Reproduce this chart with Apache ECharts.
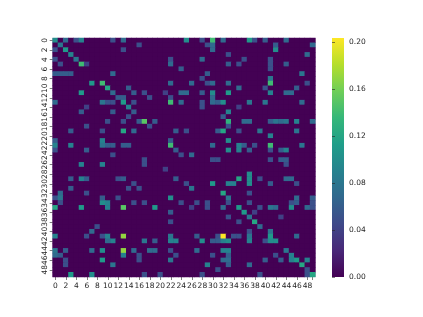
<!DOCTYPE html>
<html><head><meta charset="utf-8">
<style>html,body{margin:0;padding:0;background:#fff}#c{width:423px;height:317px;filter:blur(0.3px)}</style>
<script src="https://cdn.jsdelivr.net/npm/echarts@6/dist/echarts.min.js"></script>
</head><body><div id="c"></div>
<script>
const labels = Array.from({length:50},(_,i)=>String(i));
const colorbarTicks = [0,0.04,0.08,0.12,0.16,0.2];
const viridis = ['#440154','#482878','#3e4989','#31688e','#26828e','#1f9e89','#35b779','#6ece58','#b5de2b','#fde725'];
const vMax = 0.2034;
// per row: column,value pairs
const rowCells = [
/*0*/[[0,.1],[2,.07],[4,.05],[5,.09],[11,.05],[13,.07],[25,.1],[28,.05],[30,.14],[32,.07],[37,.11],[38,.05],[40,.06],[44,.07]],
/*1*/[[1,.08],[16,.05],[29,.05],[30,.07],[42,.06],[49,.07]],
/*2*/[[0,.05],[2,.11],[13,.05],[30,.07],[42,.1]],
/*3*/[[3,.09],[33,.05],[48,.07]],
/*4*/[[0,.05],[4,.08],[22,.05],[28,.07],[36,.05],[41,.05]],
/*5*/[[1,.05],[5,.14],[6,.04],[22,.07],[33,.06],[35,.05],[41,.05],[44,.06]],
/*6*/[[24,.06],[41,.05]],
/*7*/[[0,.06],[1,.06],[2,.06],[3,.06],[11,.07],[29,.06],[47,.08]],
/*8*/[[28,.05],[41,.08]],
/*9*/[[7,.11],[9,.14],[22,.07],[26,.07],[29,.05],[30,.07],[33,.07],[41,.14],[48,.05]],
/*10*/[[10,.12],[14,.06],[35,.07],[40,.05],[46,.06]],
/*11*/[[5,.11],[11,.07],[15,.06],[17,.05],[21,.04],[24,.07],[25,.07],[28,.06],[30,.1],[33,.11],[41,.09],[44,.07],[45,.07]],
/*12*/[[12,.06],[13,.06],[18,.05],[22,.05],[30,.07]],
/*13*/[[0,.07],[9,.08],[10,.05],[11,.05],[13,.11],[15,.05],[22,.14],[24,.07],[28,.05],[30,.07],[31,.06],[32,.1],[37,.08],[40,.08],[47,.07]],
/*14*/[[6,.04],[14,.09],[28,.05],[35,.04]],
/*15*/[[5,.06],[11,.06],[15,.06],[33,.09]],
/*16*/[[14,.05],[32,.06]],
/*17*/[[10,.05],[13,.05],[16,.06],[17,.15],[19,.06],[33,.13],[36,.07],[37,.07],[41,.06],[42,.08],[43,.07],[44,.08],[46,.09],[49,.07]],
/*18*/[[6,.05],[18,.05],[33,.05]],
/*19*/[[3,.06],[9,.05],[13,.12],[15,.07],[23,.06],[25,.05],[31,.06],[32,.12],[35,.05],[39,.08],[46,.08]],
/*20*/[[41,.09]],
/*21*/[[0,.06],[9,.09],[22,.06],[33,.1]],
/*22*/[[0,.09],[3,.09],[9,.08],[10,.06],[11,.06],[13,.06],[14,.06],[22,.14],[30,.07],[35,.09],[36,.06],[38,.05],[41,.14],[47,.08]],
/*23*/[[0,.05],[6,.06],[23,.06],[33,.1],[35,.09],[37,.06],[41,.05],[43,.06],[44,.09]],
/*24*/[[11,.05],[24,.05],[26,.07]],
/*25*/[[17,.05],[30,.05],[31,.05],[41,.05],[43,.06],[44,.06]],
/*26*/[[5,.09],[9,.09],[17,.05],[44,.05]],
/*27*/[[21,.04]],
/*28*/[[37,.1]],
/*29*/[[3,.06],[5,.09],[6,.06],[12,.05],[13,.06],[23,.06],[35,.12],[37,.1],[39,.05],[44,.07],[45,.07]],
/*30*/[[15,.05],[25,.05],[30,.11],[33,.09],[34,.09],[37,.1],[41,.06],[46,.05]],
/*31*/[[3,.06],[14,.05],[16,.05],[26,.08]],
/*32*/[[1,.07],[6,.05],[32,.12],[37,.05]],
/*33*/[[0,.05],[1,.08],[9,.06],[12,.05],[22,.1],[33,.08],[46,.07],[49,.06]],
/*34*/[[1,.05],[9,.1],[10,.09],[15,.05],[17,.05],[24,.05],[27,.05],[29,.05],[33,.05],[37,.05],[45,.05],[46,.06],[49,.05]],
/*35*/[[0,.12],[5,.11],[10,.09],[13,.15],[19,.11],[26,.04],[29,.05],[32,.07],[35,.11],[39,.05],[41,.08],[42,.07],[45,.1],[48,.07],[49,.05]],
/*36*/[[22,.06],[36,.11],[38,.04]],
/*37*/[[33,.05],[37,.08],[43,.04]],
/*38*/[[22,.05],[35,.05],[38,.12]],
/*39*/[[8,.05],[39,.07]],
/*40*/[[7,.07],[37,.05],[41,.08]],
/*41*/[[0,.09],[6,.05],[9,.05],[10,.09],[13,.17],[22,.08],[27,.06],[31,.05],[32,.2034],[34,.05],[35,.05],[37,.08],[41,.11],[46,.07]],
/*42*/[[10,.07],[11,.09],[17,.08],[19,.06],[22,.09],[23,.09],[28,.1],[30,.06],[31,.06],[32,.09],[33,.1],[37,.09],[40,.05],[41,.1],[42,.1]],
/*43*/[],
/*44*/[[0,.08],[2,.06],[7,.07],[9,.1],[13,.17],[15,.07],[18,.07],[19,.07],[22,.05],[27,.07],[32,.09],[33,.09],[44,.08]],
/*45*/[[0,.07],[1,.06],[13,.09],[16,.05],[23,.05],[30,.05],[33,.06],[42,.05],[45,.09]],
/*46*/[[2,.05],[9,.11],[16,.05],[22,.08],[32,.07],[33,.07],[40,.06],[43,.06],[45,.09],[46,.11],[48,.09]],
/*47*/[[2,.05],[11,.08],[29,.09],[33,.06],[37,.07],[47,.12]],
/*48*/[[31,.05],[48,.05]],
/*49*/[[3,.11],[7,.1],[17,.05],[20,.05],[28,.05],[39,.05],[48,.05],[49,.12]]
];

const data = [];
rowCells.forEach((cells,r)=>{
  const row = new Array(labels.length).fill(0);
  cells.forEach(([c,v])=>{row[c]=v;});
  row.forEach((v,c)=>data.push([c,r,v]));
});
const font = {fontFamily:'DejaVu Sans',fontSize:7.5,color:'#262626'};
const tick = {show:true,length:3,lineStyle:{color:'#262626',width:0.6}};
const barFill = new echarts.graphic.LinearGradient(0,1,0,0,
  viridis.map((color,i)=>({offset:i/(viridis.length-1),color})));
const chart = echarts.init(document.getElementById('c'),null,{renderer:'canvas'});
chart.setOption({
  animation:false,
  backgroundColor:'#fff',
  grid:[
    {left:52.7,top:38,width:262.6,height:239,show:true,backgroundColor:viridis[0],borderWidth:0},
    {left:332,top:38,width:12,height:239,show:true,backgroundColor:barFill,borderWidth:0}
  ],
  xAxis:[
    {type:'category',data:labels,gridIndex:0,boundaryGap:true,position:'bottom',
     axisLine:{show:false},splitLine:{show:false},
     axisTick:{...tick,alignWithLabel:true,interval:1},
     axisLabel:{...font,interval:0,margin:5,formatter:(v,i)=>i%2?'':v}},
    {type:'value',gridIndex:1,show:false,min:0,max:1}
  ],
  yAxis:[
    {type:'category',data:labels,gridIndex:0,inverse:true,boundaryGap:true,
     axisLine:{show:false},splitLine:{show:false},
     axisTick:{...tick,alignWithLabel:true,interval:1},
     axisLabel:{...font,interval:1,rotate:90,margin:4}},
    {type:'value',gridIndex:1,position:'right',min:0,max:vMax,
     axisLine:{show:false},splitLine:{show:false},
     axisTick:{...tick,customValues:colorbarTicks},
     axisLabel:{...font,margin:5,customValues:colorbarTicks,formatter:v=>v.toFixed(2)}}
  ],
  visualMap:{type:'continuous',show:false,min:0,max:vMax,seriesIndex:0,inRange:{color:viridis}},
  series:[
    {type:'heatmap',xAxisIndex:0,yAxisIndex:0,data:data,itemStyle:{borderWidth:0},emphasis:{disabled:true}},
    {type:'scatter',xAxisIndex:1,yAxisIndex:1,data:[],silent:true}
  ]
});
</script></body></html>
